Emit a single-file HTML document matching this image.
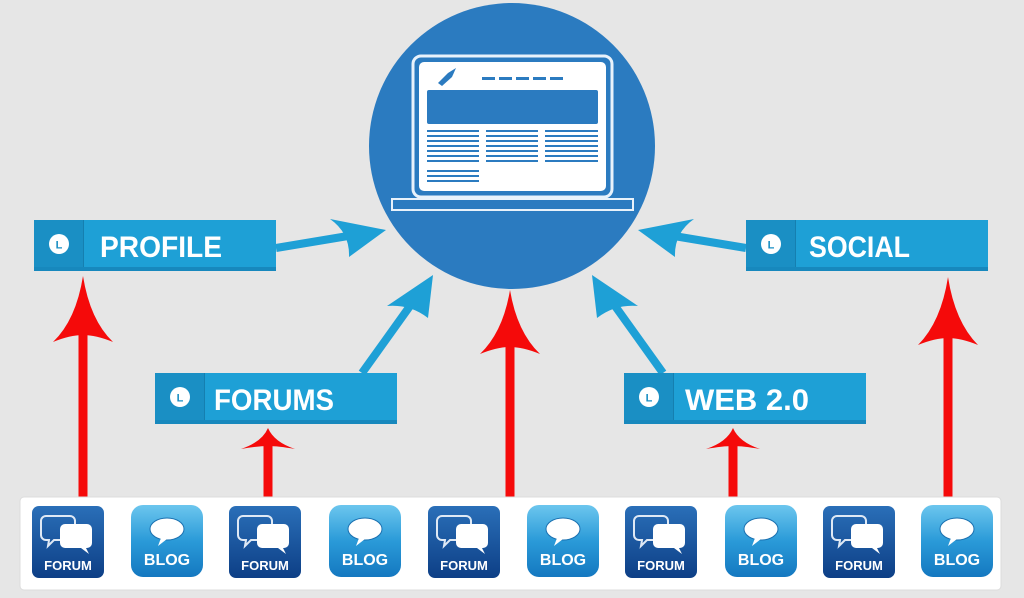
<!DOCTYPE html>
<html><head><meta charset="utf-8"><style>
html,body{margin:0;padding:0;background:#e6e6e6;}
svg{display:block;}
text{font-family:"Liberation Sans",sans-serif;}
</style></head><body>
<svg width="1024" height="598" viewBox="0 0 1024 598" xmlns="http://www.w3.org/2000/svg">
<defs>
<linearGradient id="fg" x1="0" y1="0" x2="0" y2="1"><stop offset="0" stop-color="#2a6fb8"/><stop offset="1" stop-color="#0d3f86"/></linearGradient>
<linearGradient id="bg" x1="0" y1="0" x2="0" y2="1"><stop offset="0" stop-color="#6cc6ee"/><stop offset="0.5" stop-color="#2a9ad8"/><stop offset="1" stop-color="#1478c0"/></linearGradient>
<g id="forum">
<rect x="0" y="0" width="72" height="72" rx="7" fill="url(#fg)"/>
<path d="M14 10h24a5 5 0 0 1 5 5v14a5 5 0 0 1-5 5H22l-6 6 1-6h-3a5 5 0 0 1-5-5V15a5 5 0 0 1 5-5z" fill="none" stroke="#dfe9f5" stroke-width="2"/>
<path d="M33 18h22a5 5 0 0 1 5 5v14a5 5 0 0 1-5 5h-1l3 6-8-6H33a5 5 0 0 1-5-5V23a5 5 0 0 1 5-5z" fill="#fff"/>
<text x="36" y="64" text-anchor="middle" font-size="13" font-weight="bold" fill="#fff">FORUM</text>
</g>
<g id="blog">
<rect x="0" y="0" width="72" height="72" rx="12" fill="url(#bg)"/>
<ellipse cx="36" cy="24" rx="17" ry="11" fill="#fff" stroke="#1a70b0" stroke-width="1"/>
<path d="M30 33l-3 8 9-7z" fill="#fff"/>
<text x="36" y="60" text-anchor="middle" font-size="16" font-weight="bold" fill="#fff">BLOG</text>
</g>
<g id="lbl">
<rect x="0" y="0" width="242" height="51" fill="#1ea0d6"/>
<rect x="0" y="0" width="49" height="51" fill="#1a8fc4"/>
<rect x="49" y="0" width="1" height="51" fill="#157fb0"/>
<rect x="0" y="47" width="242" height="4" fill="#1788bd"/>
<circle cx="25" cy="24" r="10" fill="#fff"/>
<text x="25" y="28.5" text-anchor="middle" font-size="11" font-weight="bold" fill="#1a8fc4">L</text>
</g>
</defs>

<circle cx="512" cy="146" r="143" fill="#2b7bc0"/>
<rect x="413" y="56" width="199" height="141" rx="8" fill="none" stroke="#e8f2fb" stroke-width="3"/>
<rect x="419" y="62" width="187" height="129" rx="5" fill="#fff"/>
<rect x="392" y="199" width="241" height="11" fill="#2b7bc0" stroke="#e8f2fb" stroke-width="2"/>
<rect x="427" y="90" width="171" height="34" rx="2" fill="#2b7bc0"/>
<g fill="#2b7bc0">
<rect x="482" y="77" width="13" height="3"/><rect x="499" y="77" width="13" height="3"/><rect x="516" y="77" width="13" height="3"/><rect x="533" y="77" width="13" height="3"/><rect x="550" y="77" width="13" height="3"/>
<path d="M438 83l10-10 8-5-4 9-10 9z"/>
</g>
<g stroke="#2b7bc0" stroke-width="2">
<path d="M427 131h52M427 136h52M427 141h52M427 146h52M427 151h52M427 156h52M427 161h52M427 171h52M427 176h52M427 181h52"/>
<path d="M486 131h52M486 136h52M486 141h52M486 146h52M486 151h52M486 156h52M486 161h52"/>
<path d="M545 131h53M545 136h53M545 141h53M545 146h53M545 151h53M545 156h53M545 161h53"/>
</g>

<g stroke="#1ea0d6" stroke-width="8" fill="#1ea0d6">
<line x1="276" y1="248" x2="360" y2="234"/>
<line x1="362" y1="373" x2="420" y2="292"/>
<line x1="663" y1="373" x2="605" y2="292"/>
<line x1="746" y1="248" x2="662" y2="234"/>
</g>
<g fill="#1ea0d6">
<path d="M386 230L330 219Q350 233 349 257Z"/>
<path d="M433 275L387 306Q410 304 428 318Z"/>
<path d="M592 275L638 306Q615 304 597 318Z"/>
<path d="M638 230L694 219Q674 233 675 257Z"/>
</g>

<use href="#lbl" x="34" y="220"/>
<text x="100" y="257" font-size="30" font-weight="bold" fill="#fff" textLength="122" lengthAdjust="spacingAndGlyphs">PROFILE</text>
<use href="#lbl" x="155" y="373"/>
<text x="214" y="410" font-size="30" font-weight="bold" fill="#fff" textLength="120" lengthAdjust="spacingAndGlyphs">FORUMS</text>
<use href="#lbl" x="746" y="220"/>
<text x="809" y="257" font-size="30" font-weight="bold" fill="#fff" textLength="101" lengthAdjust="spacingAndGlyphs">SOCIAL</text>
<use href="#lbl" x="624" y="373"/>
<text x="685" y="410" font-size="30" font-weight="bold" fill="#fff" textLength="124" lengthAdjust="spacingAndGlyphs">WEB 2.0</text>

<g stroke="#f50a0a" stroke-width="9">
<line x1="83" y1="330" x2="83" y2="497"/>
<line x1="510" y1="340" x2="510" y2="497"/>
<line x1="948" y1="330" x2="948" y2="497"/>
<line x1="268" y1="445" x2="268" y2="497"/>
<line x1="733" y1="445" x2="733" y2="497"/>
</g>
<g fill="#f50a0a">
<path d="M83 276Q76 320 53 342Q70 335 83 335Q96 335 113 342Q90 320 83 276Z"/>
<path d="M510 290Q503 332 480 354Q497 347 510 347Q523 347 540 354Q517 332 510 290Z"/>
<path d="M948 277Q941 322 918 345Q935 338 948 338Q961 338 978 345Q955 322 948 277Z"/>
<path d="M268 428Q262 442 241 449Q258 446 268 446Q278 446 295 449Q274 442 268 428Z"/>
<path d="M733 428Q727 442 706 449Q723 446 733 446Q743 446 760 449Q739 442 733 428Z"/>
</g>

<rect x="20" y="497" width="981" height="93" rx="4" fill="#fff" stroke="#dcdcdc"/>
<use href="#forum" x="32" y="506"/>
<use href="#blog" x="131" y="505"/>
<use href="#forum" x="229" y="506"/>
<use href="#blog" x="329" y="505"/>
<use href="#forum" x="428" y="506"/>
<use href="#blog" x="527" y="505"/>
<use href="#forum" x="625" y="506"/>
<use href="#blog" x="725" y="505"/>
<use href="#forum" x="823" y="506"/>
<use href="#blog" x="921" y="505"/>
</svg>
</body></html>
